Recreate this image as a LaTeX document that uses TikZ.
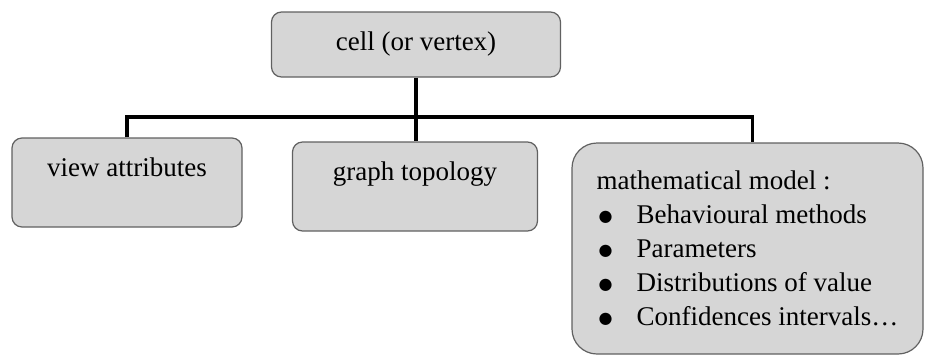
\documentclass[tikz,border=0pt]{standalone}
\usepackage{fontspec}
\setmainfont{Liberation Serif}
\newfontfamily\dotfont{DejaVu Sans}
\newcommand{\dotitem}{\hspace*{2pt}\makebox[38pt][l]{\raisebox{2pt}{\dotfont\fontsize{16}{16}\selectfont ●}}}
\begin{document}
\begin{tikzpicture}
	[
		x=1pt, y=-1pt,
		block/.style={draw=black!62, line width=1.2pt, fill=black!16, rounded corners=10pt, align=center, inner sep=0pt, font=\fontsize{27}{31}\selectfont},
		link/.style={draw, line width=3.5pt}
	]

	\useasboundingbox (0,0) rectangle (925,360);

	\node
	[block, minimum width=289pt, minimum height=65pt]
	(cell) at (416,44.5)
	{cell (or vertex)};

	\node
	[block, minimum width=230pt, minimum height=89pt, text depth=30pt]
	(view) at (127,182.5)
	{view attributes};

	\node
	[block, minimum width=245pt, minimum height=89pt, text depth=30pt]
	(topo) at (415,186.5)
	{graph topology};

	\node
	[block, rounded corners=25pt, align=left, minimum width=351pt, minimum height=211pt, font=\fontsize{27}{34}\selectfont]
	(model) at (747.5,248.5)
	{mathematical model :\\
	\dotitem Behavioural methods\\
	\dotitem Parameters\\
	\dotitem Distributions of value\\
	\dotitem Confidences intervals\dots};

	\coordinate (bus) at (416,117);

	\path
	[link]
	(cell.south)    -- (cell.south |- topo.north)
	(view.north)    |- (bus) -| ([xshift=5pt]model.north);

\end{tikzpicture}
\end{document}
